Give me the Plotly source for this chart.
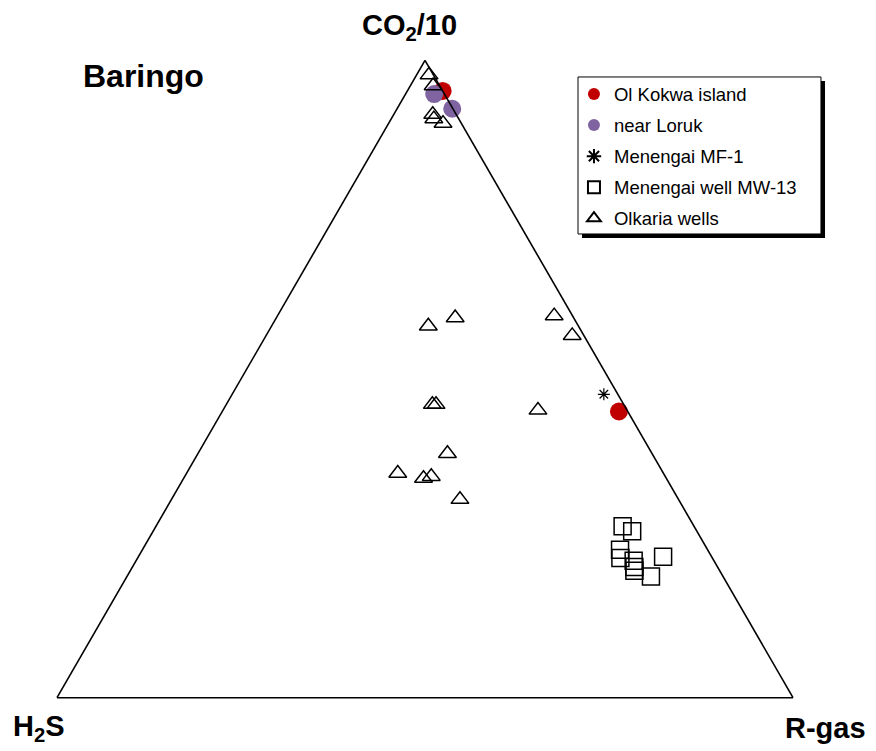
import plotly.graph_objects as go

# Ternary compositions in percent: a = CO2/10, b = H2S, c = R-gas
kokwa_a = [95.2, 44.9]
kokwa_b = [0.0, 1.2]
kokwa_c = [4.8, 53.9]

loruk_a = [94.7, 92.4]
loruk_b = [1.4, 0.1]
loruk_c = [3.9, 7.5]

mf1_a = [47.6]
mf1_b = [1.9]
mf1_c = [50.5]

mw13_a = [26.9, 26.1, 23.2, 21.9, 21.5, 20.5, 19.9, 22.1, 19.0]
mw13_b = [9.7, 8.8, 11.9, 12.5, 10.9, 11.3, 11.6, 6.6, 9.8]
mw13_c = [63.4, 65.1, 64.9, 65.6, 67.6, 68.2, 68.5, 71.3, 71.2]

olk_a = [97.7, 96.0, 91.5, 90.9, 90.1, 58.3, 59.6, 59.9, 56.8, 46.0, 46.0,
         45.1, 38.3, 35.2, 34.4, 34.7, 31.1]
olk_b = [0.6, 0.9, 3.2, 3.4, 2.5, 20.4, 16.1, 2.5, 1.6, 26.0, 25.5,
         12.1, 27.8, 36.1, 33.0, 31.8, 29.7]
olk_c = [1.7, 3.1, 5.3, 5.8, 7.4, 21.3, 24.3, 37.6, 41.6, 28.0, 28.5,
         42.8, 33.9, 28.7, 32.6, 33.5, 39.2]

FONT = "Liberation Sans"

fig = go.Figure()

fig.add_trace(go.Scatterternary(
    a=kokwa_a, b=kokwa_b, c=kokwa_c, mode="markers", name="Ol Kokwa island",
    legendgroup="g1", cliponaxis=False,
    marker=dict(symbol="circle", size=18, color="#C00000"),
))
fig.add_trace(go.Scatterternary(
    a=loruk_a, b=loruk_b, c=loruk_c, mode="markers", name="near Loruk",
    legendgroup="g2", cliponaxis=False,
    marker=dict(symbol="circle", size=18, color="#8064A2"),
))
fig.add_trace(go.Scatterternary(
    a=mf1_a, b=mf1_b, c=mf1_c, mode="markers", name="Menengai MF-1",
    legendgroup="g3", cliponaxis=False,
    marker=dict(symbol="asterisk-open", size=10, color="black",
                line=dict(color="black", width=1.2)),
))
fig.add_trace(go.Scatterternary(
    a=mw13_a, b=mw13_b, c=mw13_c, mode="markers", name="Menengai well MW-13",
    legendgroup="g4", cliponaxis=False,
    marker=dict(symbol="square-open", size=17, color="black",
                line=dict(color="black", width=1.5)),
))
fig.add_trace(go.Scatterternary(
    a=olk_a, b=olk_b, c=olk_c, mode="markers", name="Olkaria wells",
    legendgroup="g5", cliponaxis=False,
    marker=dict(symbol="triangle-up-open", size=15.5, color="black",
                line=dict(color="black", width=1.5)),
))

axis_style = dict(showgrid=False, showticklabels=False, ticks="",
                  showline=True, linecolor="black", linewidth=1.6,
                  title=dict(text=""))

# legend frame with a drop shadow
shapes = [
    dict(type="rect", xref="paper", yref="paper", layer="above",
         x0=0.7133, x1=1.0435, y0=0.7210, y1=0.9671,
         fillcolor="black", line=dict(width=0)),
    dict(type="rect", xref="paper", yref="paper", layer="above",
         x0=0.7079, x1=1.0380, y0=0.7273, y1=0.9734,
         fillcolor="white", line=dict(color="black", width=1)),
]

label_font = dict(family=FONT, size=29, color="black")
annotations = [
    dict(text="<b>CO<sub>2</sub>/10</b>", x=0.4796, y=1.0517, xref="paper", yref="paper",
         xanchor="center", yanchor="middle", showarrow=False, font=label_font),
    dict(text="<b>H<sub>2</sub>S</b>", x=-0.0245, y=-0.047, xref="paper", yref="paper",
         xanchor="center", yanchor="middle", showarrow=False, font=label_font),
    dict(text="<b>R-gas</b>", x=1.0442, y=-0.047, xref="paper", yref="paper",
         xanchor="center", yanchor="middle", showarrow=False, font=label_font),
    dict(text="<b>Baringo</b>", x=0.1174, y=0.9745, xref="paper", yref="paper",
         xanchor="center", yanchor="middle", showarrow=False,
         font=dict(family=FONT, size=32, color="black")),
]

fig.update_layout(
    width=876, height=751,
    margin=dict(l=57, r=83, t=60, b=53),
    paper_bgcolor="white",
    font=dict(family=FONT, color="black"),
    ternary=dict(
        sum=100,
        domain=dict(x=[0, 1], y=[0, 1]),
        bgcolor="white",
        aaxis=axis_style, baxis=axis_style, caxis=axis_style,
    ),
    showlegend=True,
    legend=dict(
        x=0.7024, y=0.9757, xanchor="left", yanchor="top",
        bgcolor="rgba(0,0,0,0)", borderwidth=0,
        font=dict(family=FONT, size=18.5, color="black"),
        itemsizing="constant", traceorder="grouped", tracegroupgap=4,
    ),
    shapes=shapes,
    annotations=annotations,
)

fig.write_html("out.html")
